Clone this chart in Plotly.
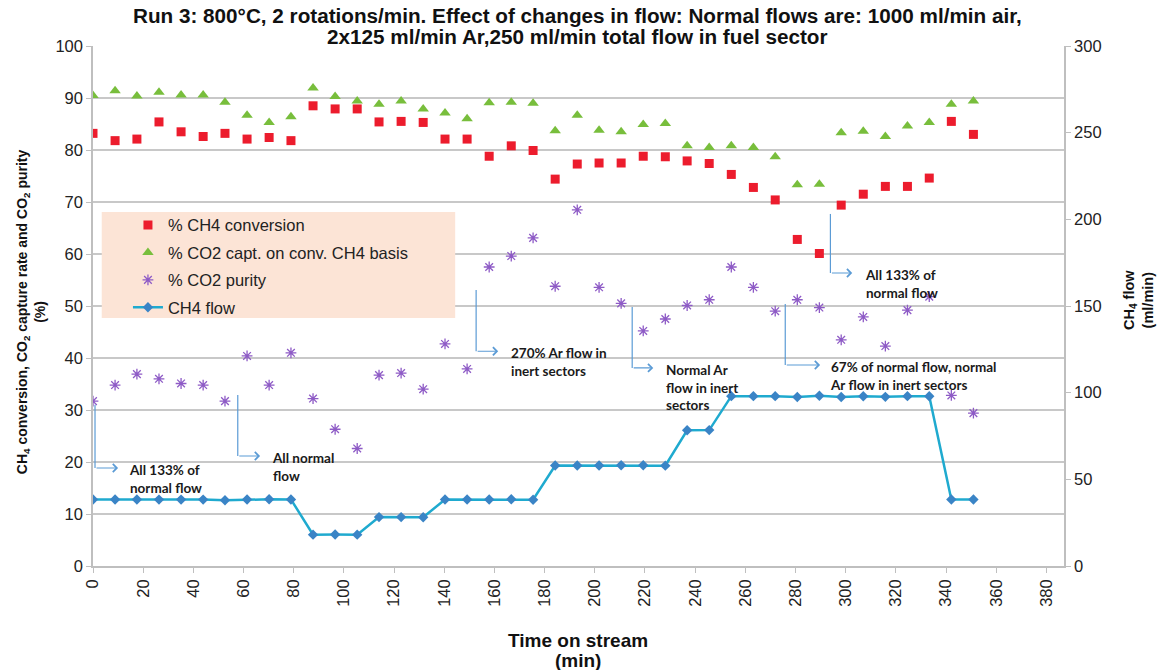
import plotly.graph_objects as go

time_min = [0.0, 8.8, 17.5, 26.3, 35.1, 43.9, 52.6, 61.4, 70.2, 78.9,
            87.7, 96.5, 105.3, 114.0, 122.8, 131.6, 140.3, 149.1, 157.9, 166.7,
            175.4, 184.2, 193.0, 201.7, 210.5, 219.3, 228.1, 236.8, 245.6, 254.4,
            263.2, 271.9, 280.7, 289.5, 298.2, 307.0, 315.8, 324.6, 333.3, 342.1,
            350.9]

ch4_conversion = [83.2, 81.8, 82.1, 85.4, 83.5, 82.6, 83.2, 82.1, 82.4, 81.8,
                  88.5, 87.9, 87.9, 85.4, 85.5, 85.3, 82.1, 82.1, 78.8, 80.8,
                  79.9, 74.4, 77.3, 77.5, 77.5, 78.8, 78.7, 77.9, 77.4, 75.3,
                  72.8, 70.4, 62.8, 60.1, 69.4, 71.5, 73.0, 73.0, 74.6, 85.5,
                  83.0]

co2_capture = [90.5, 91.4, 90.4, 91.1, 90.6, 90.6, 89.2, 86.7, 85.3, 86.4,
               91.9, 90.3, 89.4, 88.8, 89.4, 87.9, 87.1, 86.0, 89.1, 89.2,
               89.0, 83.7, 86.7, 83.8, 83.5, 84.9, 85.1, 80.8, 80.5, 80.8,
               80.5, 78.7, 73.3, 73.4, 83.3, 83.6, 82.6, 84.6, 85.3, 88.8,
               89.4]

co2_purity = [31.7, 34.8, 36.9, 36.0, 35.1, 34.8, 31.7, 40.4, 34.8, 41.0,
              32.2, 26.3, 22.6, 36.7, 37.1, 34.0, 42.7, 37.9, 57.5, 59.6,
              63.1, 53.8, 68.5, 53.6, 50.5, 45.2, 47.5, 50.1, 51.2, 57.5,
              53.6, 49.0, 51.2, 49.7, 43.5, 47.9, 42.3, 49.2, 51.8, 32.8,
              29.4]

ch4_flow = [38.4, 38.4, 38.4, 38.3, 38.3, 38.3, 37.9, 38.4, 38.5, 38.4,
            18.1, 18.2, 18.1, 28.2, 28.2, 28.1, 38.4, 38.4, 38.4, 38.5,
            38.2, 58.0, 58.0, 58.0, 58.1, 58.1, 57.9, 78.3, 78.4, 98.0,
            98.0, 98.0, 97.5, 98.2, 97.5, 97.9, 97.6, 98.0, 97.9, 38.4,
            38.4]

title_lines = ["Run 3: 800°C, 2 rotations/min. Effect of changes in flow: Normal flows are: 1000 ml/min air,",
               "2x125 ml/min Ar,250 ml/min total flow in fuel sector"]
x_title_lines = ["Time on stream", "(min)"]
y_title = "CH<sub>4</sub> conversion, CO<sub>2</sub> capture rate and CO<sub>2</sub> purity<br>(%)"
y2_title = "CH<sub>4</sub> flow<br>(ml/min)"

# (vertical connector x, y_top, y_bottom, arrow end x, text x, text top y, text)
notes = [
    (0.8, 31.0, 18.85, 10.0, 13.6, 20.3, "All 133% of<br>normal flow"),
    (57.7, 32.9, 21.15, 66.6, 70.6, 22.7, "All normal<br>flow"),
    (152.7, 53.1, 41.3, 161.5, 165.9, 42.9, "270% Ar flow in<br>inert sectors"),
    (214.9, 49.8, 38.1, 223.3, 227.7, 39.6, "Normal Ar<br>flow in inert<br>sectors"),
    (275.9, 50.4, 38.65, 289.8, 293.0, 40.2, "67% of normal flow, normal<br>Ar flow in inert sectors"),
    (293.9, 67.7, 56.35, 302.6, 307.0, 57.9, "All 133% of<br>normal flow"),
]

fig = go.Figure()
fig.add_trace(go.Scatter(x=time_min, y=ch4_conversion, mode="markers", name="% CH4 conversion",
                         legendgroup="a",
                         marker=dict(symbol="square", size=9, color="#EC1C2D")))
fig.add_trace(go.Scatter(x=time_min, y=co2_capture, mode="markers", name="% CO2 capt. on conv. CH4 basis",
                         legendgroup="b",
                         marker=dict(symbol="triangle-up", size=10, color="#78BE3C")))
fig.add_trace(go.Scatter(x=time_min, y=co2_purity, mode="markers", name="% CO2 purity",
                         legendgroup="c",
                         marker=dict(symbol="asterisk-open", size=9, color="#8E5BC6",
                                     line=dict(width=1.3, color="#8E5BC6"))))
fig.add_trace(go.Scatter(x=time_min, y=ch4_flow, mode="lines+markers", name="CH4 flow",
                         legendgroup="d", yaxis="y2",
                         line=dict(color="#1FAACF", width=2.5),
                         marker=dict(symbol="diamond", size=8, color="#3A84C6")))

arrow_col = "#5B9BD5"
shapes = [dict(type="rect", xref="paper", yref="paper", x0=0.009, x1=0.373, y0=0.477, y1=0.681,
               fillcolor="#FCE4D6", line=dict(width=0), layer="above")]
annotations = []
for vx, ytop, ybot, ax_end, tx, ty, txt in notes:
    shapes.append(dict(type="line", xref="x", yref="y", x0=vx, x1=vx, y0=ytop, y1=ybot,
                       line=dict(color=arrow_col, width=1.2)))
    annotations.append(dict(x=ax_end, y=ybot, ax=vx, ay=ybot, xref="x", yref="y",
                            axref="x", ayref="y", text="", showarrow=True,
                            arrowhead=4, arrowsize=1.3, arrowwidth=1.2, arrowcolor=arrow_col))
    annotations.append(dict(x=tx, y=ty, xref="x", yref="y", text=txt, showarrow=False,
                            xanchor="left", yanchor="top", align="left",
                            font=dict(family="Lato", size=13.5, color="#1a1a1a", weight="bold")))

for line_text, ypos in zip(title_lines, [1.0596, 1.0192]):
    annotations.append(dict(x=0.4985, y=ypos, xref="paper", yref="paper", xanchor="center",
                            yanchor="middle", showarrow=False, text="<b>" + line_text + "</b>",
                            font=dict(family="Liberation Sans, Arial", size=20.7, color="#111")))

for line_text, ypos in zip(x_title_lines, [-0.1442, -0.1808]):
    annotations.append(dict(x=0.4995, y=ypos, xref="paper", yref="paper", xanchor="center",
                            yanchor="middle", showarrow=False, text="<b>" + line_text + "</b>",
                            font=dict(family="Liberation Sans, Arial", size=19, color="#111")))

annotations.append(dict(x=-0.0639, y=0.49, xref="paper", yref="paper", xanchor="center",
                        yanchor="middle", showarrow=False, textangle=-90, text="<b>" + y_title + "</b>",
                        font=dict(family="Liberation Sans, Arial", size=14, color="#111")))
annotations.append(dict(x=1.0762, y=0.5115, xref="paper", yref="paper", xanchor="center",
                        yanchor="middle", showarrow=False, textangle=-90, text="<b>" + y2_title + "</b>",
                        font=dict(family="Liberation Sans, Arial", size=14.5, color="#111")))

fig.update_layout(
    width=1163, height=670,
    margin=dict(l=93, r=99, t=46, b=104),
    paper_bgcolor="white", plot_bgcolor="white",
    font=dict(family="Liberation Sans, Arial", size=16, color="#222"),
    xaxis=dict(range=[0, 387], tick0=0, dtick=20, tickangle=-90, showgrid=False, zeroline=False,
               showline=True, linecolor="#BFBFBF", linewidth=1.5, automargin=False,
               ticks="outside", ticklen=5, tickcolor="#BFBFBF",
               tickfont=dict(size=16.5, color="#222")),
    yaxis=dict(range=[0, 100], dtick=10, showgrid=True, gridcolor="#C8C8C8", gridwidth=1.5,
               zeroline=False, showline=True, linecolor="#BFBFBF", linewidth=1.5, automargin=False,
               ticks="outside", ticklen=5, tickcolor="#BFBFBF",
               tickfont=dict(size=16.5, color="#222")),
    yaxis2=dict(range=[0, 300], dtick=50, overlaying="y", side="right", showgrid=False,
                zeroline=False, showline=True, linecolor="#BFBFBF", linewidth=1.5, automargin=False,
                ticks="outside", ticklen=5, tickcolor="#BFBFBF",
                tickfont=dict(size=16.5, color="#222")),
    legend=dict(x=0.036, y=0.689, xanchor="left", yanchor="top", bgcolor="rgba(0,0,0,0)",
                font=dict(size=16.5, color="#222"), tracegroupgap=3),
    shapes=shapes,
    annotations=annotations,
)

fig.write_html("out.html")
